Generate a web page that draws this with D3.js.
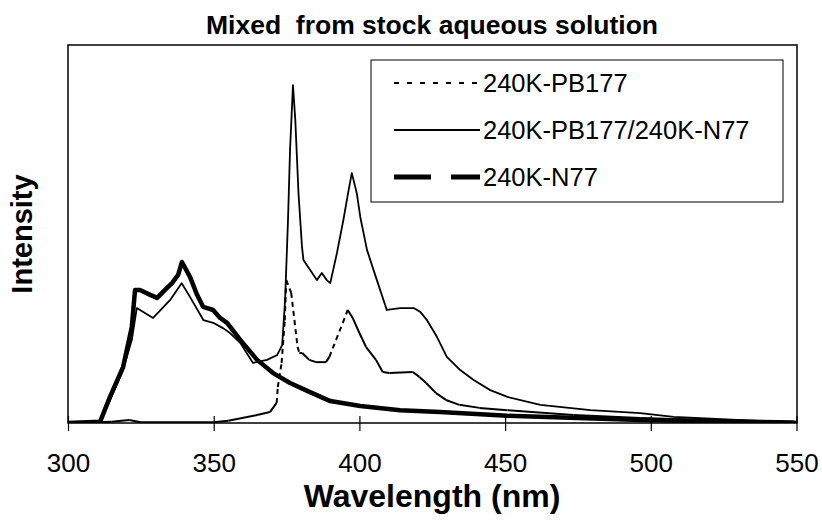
<!DOCTYPE html>
<html>
<head>
<meta charset="utf-8">
<script src="https://cdn.jsdelivr.net/npm/d3@7"></script>
<style>
  body { margin: 0; background: #fff; }
  text { font-family: "Liberation Sans", Arial, sans-serif; fill: #000; }
</style>
</head>
<body>
<svg id="chart" width="822" height="521"></svg>
<script>
// Dados (comprimento de onda em nm, intensidade em unidades arbitrárias)
const xTicks = [300, 350, 400, 450, 500, 550];
const seriesNames = ['240K-PB177', '240K-PB177/240K-N77', '240K-N77'];

const pbNm  = [300, 315, 321, 325, 350, 355, 364.9, 369.3, 371.6, 372, 373.3, 374.4, 374.9, 376.6, 377.7, 378.8, 379.4, 380.4, 382.8, 385.1, 388.5, 389.7, 392, 394.3, 396, 397.7, 400, 402.3, 405.7, 408, 410.3, 418.3, 420.6, 422.9, 426.3, 429.7, 434.3, 441.2, 450.8, 473.4, 496.4, 549, 550];
const pbInt = [0, 0.3, 0.8, 0.2, 0.2, 0.6, 2.1, 2.9, 5.3, 9.5, 15.9, 27.2, 37.8, 34.4, 27.2, 20.1, 18.5, 18.5, 16.7, 16.1, 16.1, 17.5, 22.0, 26.5, 29.9, 27.8, 23.8, 20.1, 16.7, 13.5, 13.2, 13.5, 12.2, 10.6, 7.9, 6.1, 4.8, 4.0, 3.4, 2.1, 1.3, 0.1, 0];

const mixNm  = [300, 311, 314.4, 318.9, 321.9, 323.6, 329.2, 335, 339, 341.9, 346.5, 349.8, 353.2, 355.6, 359.1, 363.5, 368.3, 371.8, 373.5, 374.5, 375.5, 376.2, 377.2, 378, 379.1, 380.3, 380.8, 383.1, 385.4, 387.1, 388.8, 390, 392.3, 394.5, 396.3, 397.4, 399.1, 400.3, 402.6, 406, 409.4, 414, 418.6, 420.9, 423.2, 426.6, 430, 434.6, 439.2, 444.9, 450.8, 462.1, 479.3, 496.4, 507.8, 549, 550];
const mixInt = [0, 0.3, 6, 14, 22, 30.4, 27.8, 32.5, 37.0, 33.3, 27.2, 26.5, 25.1, 23.8, 21.2, 15.9, 16.7, 18.0, 20.6, 32.5, 53.7, 72.2, 89.4, 80.2, 60.8, 46.6, 43.1, 40.5, 37.8, 39.7, 37.8, 37.0, 45.0, 53.7, 61.6, 66.1, 60.8, 54.5, 45.8, 37.8, 29.9, 30.4, 30.4, 29.4, 27.2, 22.8, 17.5, 14.0, 11.4, 8.7, 6.9, 4.8, 3.4, 2.6, 1.6, 0.1, 0];

const n77Nm  = [300, 311, 314.4, 318.9, 321.9, 323, 324.7, 328.2, 330.6, 333.3, 335.7, 337.8, 339.1, 341.9, 344.3, 346.4, 349.8, 352.2, 354.6, 359.1, 364.9, 370.4, 376.2, 382.1, 390, 400.3, 414, 427.7, 450.8, 496.4, 549, 550];
const n77Int = [0, 0.3, 6.9, 14.8, 25.4, 35.2, 35.2, 33.9, 33.1, 35.2, 37.0, 39.2, 42.6, 38.6, 33.9, 30.7, 29.9, 27.8, 26.5, 22.0, 16.7, 13.2, 10.6, 8.5, 5.8, 4.5, 3.4, 2.9, 1.9, 0.8, 0.1, 0];

const svg = d3.select('#chart');

// Área do gráfico
const plotLeft = 68, plotRight = 796.5, plotTop = 45, plotBottom = 423;

const x = d3.scaleLinear().domain([300, 550]).range([plotLeft, plotRight]);
const y = d3.scaleLinear().domain([0, 100]).range([plotBottom, plotTop]);

// Título
svg.append('text')
    .attr('x', 432).attr('y', 34)
    .attr('text-anchor', 'middle')
    .style('font-size', '26.5px').style('font-weight', 'bold')
    .style('white-space', 'pre')
    .text('Mixed  from stock aqueous solution');

// Moldura da área de plotagem
svg.append('rect')
    .attr('x', plotLeft).attr('y', plotTop)
    .attr('width', 797 - plotLeft).attr('height', plotBottom - plotTop)
    .attr('fill', 'none').attr('stroke', '#000').attr('stroke-width', 1.5);

// Eixo X
const xAxis = svg.append('g')
    .attr('transform', `translate(0,${plotBottom})`)
    .call(d3.axisBottom(x).tickValues(xTicks).tickSize(8).tickFormat(d3.format('d')));

xAxis.select('.domain').remove();
xAxis.selectAll('.tick line').attr('y1', -7).attr('y2', 8).attr('stroke', '#000').attr('stroke-width', 1.2);
xAxis.selectAll('.tick text')
    .attr('y', 49).attr('dy', 0)
    .style('font-size', '26px')
    .attr('fill', '#000');

// Títulos dos eixos
svg.append('text')
    .attr('x', 432).attr('y', 507)
    .attr('text-anchor', 'middle')
    .style('font-size', '32px').style('font-weight', 'bold')
    .text('Wavelength (nm)');

svg.append('text')
    .attr('transform', `translate(32,${(plotTop + plotBottom) / 2}) rotate(-90)`)
    .attr('text-anchor', 'middle')
    .style('font-size', '29px').style('font-weight', 'bold')
    .text('Intensity');

// Séries
const line = d3.line()
    .x(d => x(d[0]))
    .y(d => y(d[1]));

const zip = (a, b) => a.map((v, i) => [v, b[i]]);

const styles = [
    { width: 2, dash: '5,4', legendDash: '5,8' },
    { width: 1.8, dash: null, legendDash: null },
    { width: 4.5, dash: null, legendDash: '37,20' }
];

const data = [zip(pbNm, pbInt), zip(mixNm, mixInt), zip(n77Nm, n77Int)];

svg.append('clipPath').attr('id', 'clip')
    .append('rect').attr('x', plotLeft).attr('y', plotTop).attr('width', plotRight - plotLeft).attr('height', plotBottom - plotTop);

const plot = svg.append('g').attr('clip-path', 'url(#clip)');

// N77 e mistura: linhas contínuas (a mais grossa primeiro)
[2, 1].forEach(i => {
    plot.append('path')
        .datum(data[i])
        .attr('d', line)
        .attr('fill', 'none')
        .attr('stroke', '#000')
        .attr('stroke-width', styles[i].width)
        .attr('stroke-linejoin', 'round');
});

// PB177: tracejado só aparece nos trechos íngremes (como no Excel com muitos pontos)
const pbPairs = d3.pairs(data[0]);
plot.selectAll('path.pb')
    .data(pbPairs)
    .join('path')
    .attr('class', 'pb')
    .attr('d', d => line(d))
    .attr('fill', 'none')
    .attr('stroke', '#000')
    .attr('stroke-width', styles[0].width)
    .attr('stroke-linecap', 'butt')
    .attr('stroke-dasharray', d => {
        const dx = Math.abs(x(d[1][0]) - x(d[0][0]));
        const dy = Math.abs(y(d[1][1]) - y(d[0][1]));
        return dy > 2.5 * dx ? styles[0].dash : null;
    });

// Legenda
const legend = svg.append('g');
legend.append('rect')
    .attr('x', 371).attr('y', 60)
    .attr('width', 412).attr('height', 142)
    .attr('fill', '#fff').attr('stroke', '#000').attr('stroke-width', 1);

seriesNames.forEach((name, i) => {
    const cy = 83 + i * 47;
    legend.append('line')
        .attr('x1', 394).attr('x2', 480)
        .attr('y1', cy).attr('y2', cy)
        .attr('stroke', '#000')
        .attr('stroke-width', i === 2 ? 5 : 2)
        .attr('stroke-dasharray', styles[i].legendDash);
    legend.append('text')
        .attr('x', 483).attr('y', cy + 9)
        .style('font-size', '25.5px')
        .text(name);
});
</script>
</body>
</html>
